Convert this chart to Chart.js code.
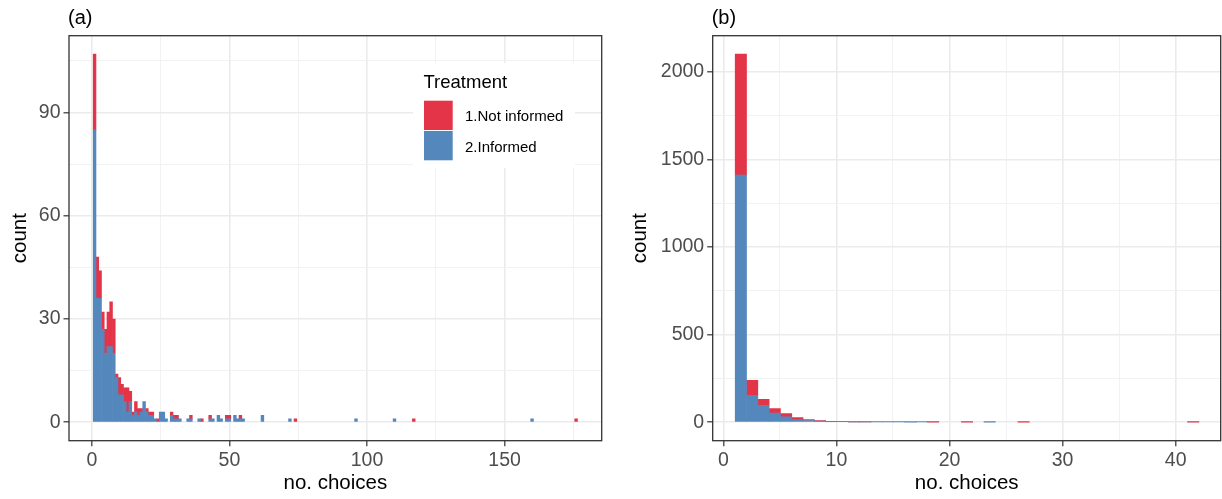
<!DOCTYPE html>
<html>
<head>
<meta charset="utf-8">
<script src="https://cdn.jsdelivr.net/npm/chart.js@4"></script>
<style>
  html, body { margin: 0; padding: 0; background: #fff; }
  #wrap { position: relative; width: 1222px; height: 499px; }
  .panel { position: absolute; top: 0; width: 611px; height: 499px; }
</style>
</head>
<body>
<div id="wrap">
  <div class="panel" style="left:0"><canvas id="chartA" width="611" height="499"></canvas></div>
  <div class="panel" style="left:611px"><canvas id="chartB" width="611" height="499"></canvas></div>
</div>
<script>
// (a) bins of width 1, centred on whole numbers of choices
var binsA = [1, 2, 3, 4, 5, 6, 7, 8, 9, 10, 11, 12, 13, 14, 15, 16, 17, 18, 19, 20,
  21, 22, 23, 24, 25, 26, 27, 29, 30, 31, 32, 35, 36, 39, 40, 43, 44, 46, 47, 49,
  50, 52, 53, 54, 55, 62, 72, 74, 96, 110, 117, 160, 176];
var notInformedA = [22, 12, 8, 5, 7, 10, 13, 10, 1, 5, 3, 4, 7, 3, 1, 3, 2, 1, 0, 1,
  1, 1, 0, 1, 0, 0, 0, 1, 1, 1, 0, 0, 1, 0, 1, 1, 0, 0, 0, 1,
  1, 0, 0, 1, 0, 0, 0, 1, 0, 0, 1, 0, 1];
var informedA = [85, 36, 36, 27, 20, 22, 22, 20, 13, 8, 8, 6, 3, 6, 2, 3, 2, 3, 6, 3,
  2, 2, 1, 0, 3, 3, 1, 2, 1, 1, 1, 1, 1, 1, 0, 1, 1, 2, 1, 1,
  1, 2, 1, 1, 1, 2, 1, 0, 1, 1, 0, 1, 0];

// (b) bins of width 1 starting at whole numbers
var binsB = [1, 2, 3, 4, 5, 6, 7, 8, 9, 10, 11, 12, 13, 14, 15, 16, 17, 18, 21, 23, 26, 41];
var notInformedB = [690, 85, 34, 25, 19, 12, 5, 3, 2, 1, 1, 1, 0, 0, 0, 0, 0, 1, 1, 0, 1, 1];
var informedB = [1410, 154, 97, 53, 31, 15, 10, 7, 3, 3, 2, 2, 2, 2, 2, 1, 2, 0, 0, 1, 0, 0];

var xTicksA = [0, 50, 100, 150];
var yTicksA = [0, 30, 60, 90];
var xTicksB = [0, 10, 20, 30, 40];
var yTicksB = [0, 500, 1000, 1500, 2000];

var treatments = ['1.Not informed', '2.Informed'];
var red = 'rgb(228,52,72)';
var blue = 'rgb(84,136,189)';

var FONT = '"Liberation Sans", Arial, sans-serif';

function points(bins, vals, shift) {
  return bins.map(function (b, i) {
    return { x: b + shift, y: vals[i] === 0 ? null : vals[i] };
  });
}

// major ticks plus the minor ones half way between them
function withMinor(majors) {
  var step = majors[1] - majors[0];
  var out = [];
  majors.forEach(function (m) { out.push(m); out.push(m + step / 2); });
  out.unshift(majors[0] - step / 2);
  return out;
}

function axis(majors, min, max, size, extra) {
  var all = withMinor(majors).filter(function (v) { return v >= min && v <= max; });
  var isMajor = function (v) { return majors.indexOf(v) >= 0; };
  var o = {
    type: 'linear',
    min: min,
    max: max,
    offset: false,
    stacked: true,
    afterBuildTicks: function (s) { s.ticks = all.map(function (v) { return { value: v }; }); },
    grid: {
      offset: false,
      color: function (c) { return c.tick && isMajor(c.tick.value) ? '#EBEBEB' : '#F1F1F1'; },
      lineWidth: function (c) { return c.tick && isMajor(c.tick.value) ? 1.6 : 0.9; },
      tickColor: function (c) { return c.tick && isMajor(c.tick.value) ? '#333333' : 'rgba(0,0,0,0)'; },
      tickWidth: 1.2,
      tickLength: 5.5
    },
    border: { display: false },
    ticks: {
      autoSkip: false,
      maxRotation: 0,
      color: '#4D4D4D',
      font: { family: FONT, size: 19.5 },
      callback: function (v) { return isMajor(v) ? String(v) : ''; }
    }
  };
  for (var k in extra) o[k] = extra[k];
  return o;
}

var framePlugin = {
  id: 'framePlugin',
  afterDraw: function (chart) {
    var a = chart.chartArea, ctx = chart.ctx;
    ctx.save();
    ctx.strokeStyle = '#333333';
    ctx.lineWidth = 1.3;
    ctx.strokeRect(a.left, a.top, a.right - a.left, a.bottom - a.top);
    ctx.fillStyle = '#000';
    ctx.font = '20px ' + FONT;
    ctx.textBaseline = 'alphabetic';
    ctx.fillText(chart.options.plugins.framePlugin.tag, a.left - 1, 24);
    ctx.restore();
  }
};

var treatmentLegend = {
  id: 'treatmentLegend',
  afterDraw: function (chart) {
    var ctx = chart.ctx;
    ctx.save();
    ctx.fillStyle = '#fff';
    ctx.fillRect(413, 63, 162, 105);
    ctx.fillStyle = '#000';
    ctx.font = '18.5px ' + FONT;
    ctx.fillText('Treatment', 423.5, 88.3);
    ctx.fillStyle = red;
    ctx.fillRect(424, 100.7, 28.7, 29.3);
    ctx.fillStyle = blue;
    ctx.fillRect(424, 131, 28.7, 29.3);
    ctx.fillStyle = '#000';
    ctx.font = '15px ' + FONT;
    ctx.fillText(treatments[0], 465, 120.7);
    ctx.fillText(treatments[1], 465, 151.7);
    ctx.restore();
  }
};

function makeChart(id, cfg) {
  var xFit = 58.3;
  return new Chart(document.getElementById(id), {
    type: 'bar',
    data: {
      datasets: [{
        label: treatments[1],
        data: points(cfg.bins, cfg.informed, cfg.shift),
        backgroundColor: blue,
        borderWidth: 0,
        barPercentage: 1,
        categoryPercentage: 1
      }, {
        label: treatments[0],
        data: points(cfg.bins, cfg.notInformed, cfg.shift),
        backgroundColor: red,
        borderWidth: 0,
        barPercentage: 1,
        categoryPercentage: 1
      }]
    },
    options: {
      responsive: false,
      animation: false,
      layout: { padding: { left: 0, top: 35.7, right: cfg.padRight, bottom: 0 } },
      plugins: {
        legend: { display: false },
        tooltip: { enabled: false },
        framePlugin: { tag: cfg.tag }
      },
      scales: {
        x: axis(cfg.xTicks, cfg.xMin, cfg.xMax, 0, {
          position: 'bottom',
          afterFit: function (s) { s.height = xFit; },
          title: {
            display: true, text: 'no. choices', color: '#000',
            font: { family: FONT, size: 20.5 },
            padding: { top: 0, bottom: 3.7 }
          }
        }),
        y: axis(cfg.yTicks, cfg.yMin, cfg.yMax, 0, {
          position: 'left',
          afterFit: function (s) { s.width = cfg.yWidth; },
          title: {
            display: true, text: 'count', color: '#000',
            font: { family: FONT, size: 20.5 },
            padding: { top: cfg.yTitlePad, bottom: 0 }
          }
        })
      }
    },
    plugins: cfg.extra ? [framePlugin, cfg.extra] : [framePlugin]
  });
}

makeChart('chartA', {
  tag: '(a)', bins: binsA, notInformed: notInformedA, informed: informedA, shift: 0,
  xTicks: xTicksA, yTicks: yTicksA, xMin: -8.3, xMax: 185.3, yMin: -5.35, yMax: 112.35,
  yWidth: 69, padRight: 9.3, yTitlePad: 7.7, extra: treatmentLegend
});

makeChart('chartB', {
  tag: '(b)', bins: binsB, notInformed: notInformedB, informed: informedB, shift: 0.55,
  xTicks: xTicksB, yTicks: yTicksB, xMin: -0.94, xMax: 43.98, yMin: -105, yMax: 2205,
  yWidth: 101.7, padRight: 1.3, yTitlePad: 16.7
});
</script>
</body>
</html>
